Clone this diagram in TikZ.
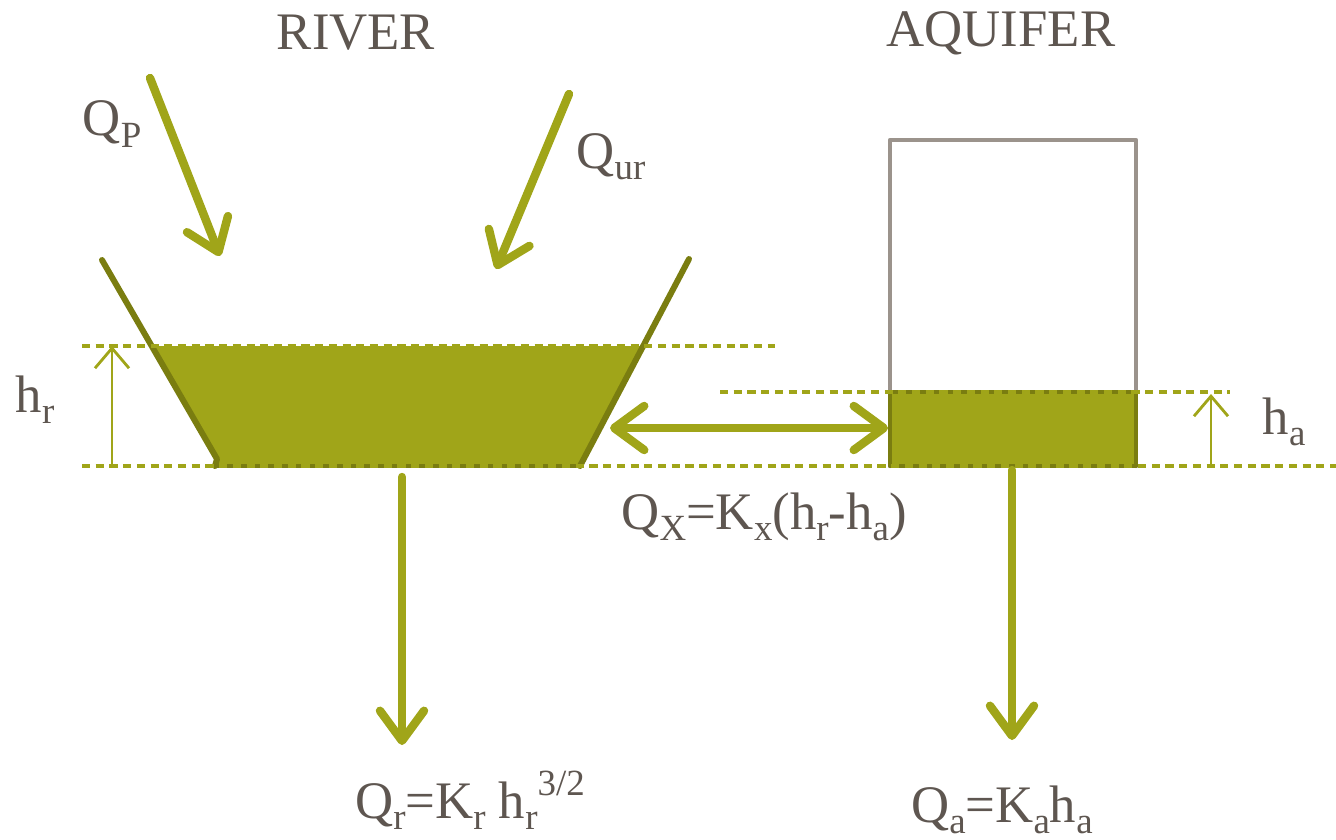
\documentclass[tikz,border=0pt]{standalone}
\usepackage{fontspec}
\setmainfont{Liberation Serif}
\usepackage{tikz}
\usetikzlibrary{arrows.meta}
\definecolor{olive}{RGB}{160,165,25}
\definecolor{darkolive}{RGB}{122,125,16}
\definecolor{boxgray}{RGB}{155,147,140}
\definecolor{txt}{RGB}{94,86,80}
\newcommand{\sbs}[1]{\raisebox{-3.2pt}{\fontsize{10.5}{12}\selectfont #1}}
\newcommand{\sps}[1]{\raisebox{6.5pt}{\fontsize{10.5}{12}\selectfont #1}}
\tikzset{
  every picture/.style={line join=round, line cap=round},
  lbl/.style={text=txt, font=\fontsize{15}{18}\selectfont, inner sep=0pt},
  flow/.style={olive, line width=2.4pt, -{Straight Barb[round, length=3mm, width=4.4mm]}},
  flowboth/.style={olive, line width=2.4pt, {Straight Barb[round, length=3mm, width=4.4mm]}-{Straight Barb[round, length=3mm, width=4.4mm]}},
  level/.style={olive, line width=0.9pt, line cap=butt, dash pattern=on 2.3pt off 1.6pt},
  measure/.style={olive, line width=0.8pt, -{Straight Barb[length=2mm, width=3.4mm]}},
  wall/.style={darkolive, line width=1.7pt},
}
\begin{document}
\begin{tikzpicture}[x=0.01cm, y=-0.01cm]
\useasboundingbox (0,0) rectangle (1336,839);
% titles
\node[lbl] (river) at (356,33) {RIVER};
\node[lbl] (aquifer) at (1001,33) {AQUIFER};
% river bed
\fill[olive] (152,346) -- (643,346) -- (580,466) -- (215,466) -- (217,459) -- cycle;
\draw[wall] (102,260) -- (217,459) -- (215,466);
\draw[wall, line width=1.1pt] (215,466) -- (580,466);
\draw[wall] (580,466) -- (689,259);
% aquifer tank
\draw[boxgray, line width=1.2pt] (890,466) -- (890,140) -- (1136,140) -- (1136,466);
\draw[wall, fill=olive, line width=1.3pt] (890,392) rectangle (1136,466);
% levels
\draw[level] (82,346) -- (775,346);
\draw[level] (82,466) -- (1336,466);
\draw[level] (720,392) -- (1230,392);
% heights
\coordinate (hr0) at (112,466);
\coordinate (hr1) at (112,346);
\draw[measure] (hr0) -- (hr1);
\coordinate (ha0) at (1211,466);
\coordinate (ha1) at (1211,394);
\draw[measure] (ha0) -- (ha1);
\node[lbl] (hr) at (35,400) {h\sbs{r}};
\node[lbl] (ha) at (1284,422) {h\sbs{a}};
% inflows
\coordinate (qp0) at (150,78);
\coordinate (qp1) at (220,256);
\coordinate (qur0) at (569,94);
\coordinate (qur1) at (496,269);
\draw[flow] (qp0) -- (qp1);
\draw[flow] (qur0) -- (qur1);
\node[lbl] (qp) at (112,124) {Q\sbs{P}};
\node[lbl] (qur) at (611,157) {Q\sbs{ur}};
% exchange
\coordinate (qx0) at (610,428);
\coordinate (qx1) at (888,428);
\draw[flowboth] (qx0) -- (qx1);
\node[lbl] (qx) at (764,517) {Q\sbs{X}=K\sbs{x}(h\sbs{r}-h\sbs{a})};
% outflows
\coordinate (qr0) at (402,477);
\coordinate (qr1) at (402,745);
\coordinate (qa0) at (1012,470);
\coordinate (qa1) at (1012,740);
\draw[flow] (qr0) -- (qr1);
\draw[flow] (qa0) -- (qa1);
\node[lbl] (qr) at (470,800) {Q\sbs{r}=K\sbs{r} h\sbs{r}\sps{3/2}};
\node[lbl] (qa) at (1002,810) {Q\sbs{a}=K\sbs{a}h\sbs{a}};
\end{tikzpicture}
\end{document}
